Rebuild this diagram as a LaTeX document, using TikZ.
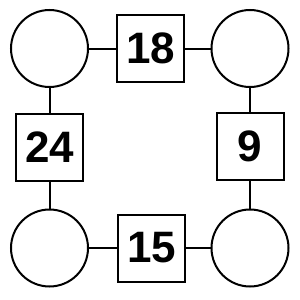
\documentclass[tikz,border=0pt]{standalone}
\usepackage{fontspec}
\setmainfont{Liberation Sans}
\begin{document}
\begin{tikzpicture}[x=1pt,y=-1pt,
  circ/.style={draw,line width=2pt,circle,minimum size=77pt,inner sep=0pt},
  sq/.style={draw,line width=2pt,minimum size=67pt,inner sep=0pt,font=\fontsize{44}{44}\selectfont\bfseries},
  link/.style={line width=2pt}]
\useasboundingbox (0,0) rectangle (300,300);
\node[circ] (c1) at (49.5,48.5) {};
\node[circ] (c2) at (250,48.5) {};
\node[circ] (c3) at (49.5,248) {};
\node[circ] (c4) at (250,248) {};
\node[sq] (s1) at (150.5,48.5) {18};
\node[sq] (s2) at (49.5,147) {24};
\node[sq] (s3) at (250,146) {9};
\node[sq] (s4) at (151.5,248) {15};
\draw[link] (c1) -- (s1);
\draw[link] (s1) -- (c2);
\draw[link] (c1) -- (s2);
\draw[link] (s2) -- (c3);
\draw[link] (c2) -- (s3);
\draw[link] (s3) -- (c4);
\draw[link] (c3) -- (s4);
\draw[link] (s4) -- (c4);
\end{tikzpicture}
\end{document}
